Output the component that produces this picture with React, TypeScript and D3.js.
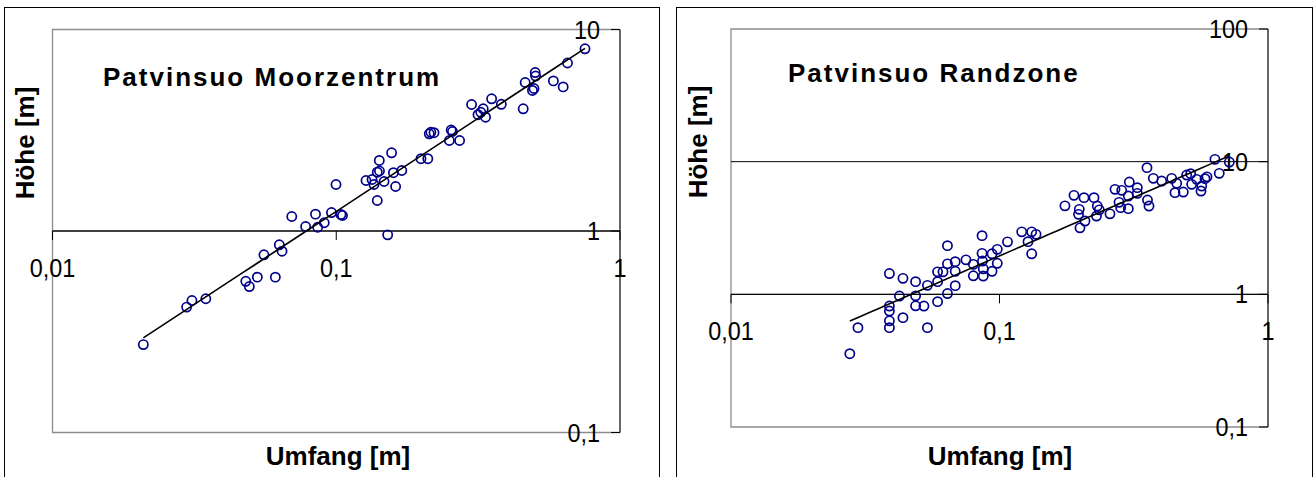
import React from "react";
import * as d3 from "d3";

// ---------- DATA ----------
// Umfang [m] (circumference) and Höhe [m] (height), Patvinsuo Moorzentrum
const centreUmfang = [
  0.0209, 0.0297, 0.031, 0.0347, 0.048, 0.0494, 0.0527, 0.061, 0.0556, 0.063,
  0.0644, 0.0697, 0.078, 0.0845, 0.086, 0.0907, 0.0962, 0.1039, 0.1052, 0.1518,
  0.0998, 0.1395, 0.1273, 0.1337, 0.1358, 0.1395, 0.142, 0.1418, 0.1474, 0.1567,
  0.159, 0.1619, 0.1702, 0.1989, 0.2102, 0.2127, 0.2155, 0.2211, 0.2504, 0.2541,
  0.2568, 0.2721, 0.2999, 0.3159, 0.3231, 0.3295, 0.3359, 0.3528, 0.3817, 0.4559,
  0.4633, 0.4915, 0.4976, 0.5026, 0.5041, 0.5824, 0.6306, 0.6531, 0.7527,
];
const centreHoehe = [
  0.273, 0.419, 0.452, 0.461, 0.563, 0.53, 0.59, 0.59, 0.762, 0.854,
  0.794, 1.18, 1.053, 1.212, 1.044, 1.099, 1.235, 1.207, 1.194, 0.957,
  1.701, 1.417, 1.781, 1.801, 1.701, 1.958, 1.985, 2.239, 1.761, 2.444,
  1.947, 1.663, 1.996, 2.285, 2.285, 3.037, 3.089, 3.075, 2.813, 3.171,
  3.117, 2.813, 4.244, 3.777, 3.882, 4.041, 3.671, 4.531, 4.254, 4.041,
  5.458, 4.982, 5.096, 6.116, 5.876, 5.557, 5.19, 6.82, 8.022,
];

// Patvinsuo Randzone
const edgeUmfang = [
  0.0277, 0.0297, 0.0389, 0.0389, 0.0389, 0.0389, 0.0389, 0.0424, 0.0437, 0.0437,
  0.0487, 0.0487, 0.0487, 0.0523, 0.0539, 0.0539, 0.0588, 0.0588, 0.0588, 0.0616,
  0.064, 0.064, 0.064, 0.0684, 0.0684, 0.0684, 0.075, 0.0799, 0.0799, 0.0861,
  0.0861, 0.0864, 0.087, 0.087, 0.0938, 0.0938, 0.0981, 0.0981, 0.1071, 0.121,
  0.1277, 0.1318, 0.1318, 0.1368, 0.1753, 0.1894, 0.1982, 0.1969, 0.1994, 0.2064,
  0.2082, 0.2249, 0.2313, 0.2353, 0.2297, 0.2579, 0.2693, 0.2787, 0.2852, 0.2827,
  0.3018, 0.3018, 0.3044, 0.326, 0.326, 0.3542, 0.3558, 0.3604, 0.374, 0.4019,
  0.4378, 0.4504, 0.4571, 0.4836, 0.4979, 0.5153, 0.5197, 0.5426, 0.5629, 0.5663,
  0.5826, 0.5926, 0.6345, 0.6583, 0.7177,
];
const edgeHoehe = [
  0.357, 0.561, 1.434, 0.816, 0.748, 0.631, 0.561, 0.971, 1.32, 0.667,
  1.246, 0.974, 0.819, 0.816, 0.561, 1.169, 1.477, 1.246, 0.881, 1.477,
  2.328, 1.697, 1.014, 1.764, 1.491, 1.163, 1.82, 1.683, 1.379, 2.769,
  2.037, 1.782, 1.557, 1.374, 2.02, 1.491, 2.183, 1.713, 2.487, 2.958,
  2.496, 2.958, 2.02, 2.832, 4.645, 5.572, 4.37, 4.007, 3.17, 5.354,
  3.567, 5.354, 4.629, 4.333, 3.891, 4.043, 6.183, 4.935, 6.076, 4.501,
  4.424, 5.505, 7.019, 6.369, 5.77, 9.012, 5.136, 4.629, 7.484, 7.141,
  7.484, 5.841, 6.862, 5.902, 7.925, 8.121, 6.744, 7.354, 6.005, 6.549,
  7.444, 7.681, 10.41, 8.162, 9.93,
];

const xTickValues = [0.01, 0.1, 1];
const xTickLabels = ["0,01", "0,1", "1"];
const centreYTickValues = [0.1, 1, 10];
const centreYTickLabels = ["0,1", "1", "10"];
const edgeYTickValues = [0.1, 1, 10, 100];
const edgeYTickLabels = ["0,1", "1", "10", "100"];

const centreTitle = "Patvinsuo Moorzentrum";
const edgeTitle = "Patvinsuo Randzone";
const xTitle = "Umfang [m]";
const yTitle = "Höhe [m]";

// ---------- DRAWING ----------
const FONT = "'Liberation Sans', Arial, Helvetica, sans-serif";
const POINT_COLOR = "#00008B";
const TICK_SX = 0.9;

type PanelProps = {
  box: { x0: number; y0: number; x1: number; y1: number };
  plot: { x0: number; y0: number; x1: number; y1: number };
  xs: number[];
  ys: number[];
  yDomain: [number, number];
  yTicks: number[];
  yLabels: string[];
  title: string;
  titlePos: [number, number];
  yTitlePos: [number, number];
  xTitlePos: [number, number];
};

function powerFit(xs: number[], ys: number[]) {
  const lx = xs.map(Math.log10);
  const ly = ys.map(Math.log10);
  const mx = d3.mean(lx) as number;
  const my = d3.mean(ly) as number;
  let sxy = 0;
  let sxx = 0;
  lx.forEach((v, i) => {
    sxy += (v - mx) * (ly[i] - my);
    sxx += (v - mx) * (v - mx);
  });
  const b = sxy / sxx;
  const a = my - b * mx;
  return (x: number) => Math.pow(10, a + b * Math.log10(x));
}

function TickText(props: { x: number; y: number; anchor: string; label: string }) {
  return (
    <text
      transform={`translate(${props.x},${props.y}) scale(${TICK_SX},1)`}
      textAnchor={props.anchor}
      fontFamily={FONT}
      fontSize={26}
      fill="black"
    >
      {props.label}
    </text>
  );
}

function Panel(p: PanelProps) {
  const { plot, box } = p;
  const x = d3.scaleLog().domain([0.01, 1]).range([plot.x0, plot.x1]);
  const y = d3.scaleLog().domain(p.yDomain).range([plot.y1, plot.y0]);
  const fit = powerFit(p.xs, p.ys);
  const [xmin, xmax] = d3.extent(p.xs) as [number, number];
  const fitPts = d3.range(0, 41).map((i) => {
    const lx = Math.log10(xmin) + (i / 40) * (Math.log10(xmax) - Math.log10(xmin));
    const xv = Math.pow(10, lx);
    return [x(xv), y(fit(xv))] as [number, number];
  });
  const line = d3.line();
  const yAxisY = y(1);
  const grid = p.yTicks.filter((t) => t > p.yDomain[0] && t < p.yDomain[1]);
  return (
    <g>
      <rect x={box.x0} y={box.y0} width={box.x1 - box.x0} height={box.y1 - box.y0} fill="white" stroke="black" strokeWidth={1} />
      {/* plot area frame (grey) */}
      <path d={`M${plot.x1},${plot.y0}H${plot.x0}V${plot.y1}H${plot.x1}`} fill="none" stroke="#8c8c8c" strokeWidth={1.3} />
      {/* horizontal gridlines */}
      {grid.map((t) => (
        <line key={"g" + t} x1={plot.x0} x2={plot.x1} y1={y(t)} y2={y(t)} stroke="black" strokeWidth={1} />
      ))}
      {/* y axis on the right */}
      <line x1={plot.x1} x2={plot.x1} y1={plot.y0} y2={plot.y1} stroke="black" strokeWidth={1.2} />
      {p.yTicks.map((t, i) => (
        <g key={"yt" + t}>
          <line x1={plot.x1 - 9} x2={plot.x1} y1={y(t)} y2={y(t)} stroke="black" strokeWidth={1} />
          <TickText x={plot.x1 - 20} y={y(t) + 9} anchor="end" label={p.yLabels[i]} />
        </g>
      ))}
      {/* x axis crossing at 1 */}
      <line x1={plot.x0} x2={plot.x1} y1={yAxisY} y2={yAxisY} stroke="black" strokeWidth={1} />
      {xTickValues.map((t, i) => (
        <g key={"xt" + t}>
          <line x1={x(t)} x2={x(t)} y1={yAxisY} y2={yAxisY + 9} stroke="black" strokeWidth={1} />
          <TickText x={x(t)} y={yAxisY + 46} anchor="middle" label={xTickLabels[i]} />
        </g>
      ))}
      {/* points */}
      {p.xs.map((xv, i) => (
        <circle key={"p" + i} cx={x(xv)} cy={y(p.ys[i])} r={4.6} fill="none" stroke={POINT_COLOR} strokeWidth={1.7} />
      ))}
      {/* power trend line */}
      <path d={line(fitPts) || ""} fill="none" stroke="black" strokeWidth={1.6} />
      {/* titles */}
      <text x={p.titlePos[0]} y={p.titlePos[1]} fontFamily={FONT} fontSize={26} fontWeight="bold" letterSpacing={2} fill="black">
        {p.title}
      </text>
      <text x={p.xTitlePos[0]} y={p.xTitlePos[1]} textAnchor="middle" fontFamily={FONT} fontSize={26} fontWeight="bold" fill="black">
        {xTitle}
      </text>
      <text
        transform={`translate(${p.yTitlePos[0]},${p.yTitlePos[1]}) rotate(-90)`}
        textAnchor="middle"
        fontFamily={FONT}
        fontSize={26}
        fontWeight="bold"
        fill="black"
      >
        {yTitle}
      </text>
    </g>
  );
}

export default function App() {
  return (
    <svg
      width={1314}
      height={477}
      style={{ position: "absolute", left: 0, top: 0, background: "white" }}
    >
      <rect x={0} y={0} width={1314} height={477} fill="white" />
      <Panel
        box={{ x0: 4.5, y0: 7.5, x1: 659.5, y1: 490 }}
        plot={{ x0: 52.5, y0: 29.5, x1: 620, y1: 432.5 }}
        xs={centreUmfang}
        ys={centreHoehe}
        yDomain={[0.1, 10]}
        yTicks={centreYTickValues}
        yLabels={centreYTickLabels}
        title={centreTitle}
        titlePos={[103, 86]}
        yTitlePos={[34, 143]}
        xTitlePos={[338, 465]}
      />
      <Panel
        box={{ x0: 676.5, y0: 7.5, x1: 1312.5, y1: 490 }}
        plot={{ x0: 731, y0: 29, x1: 1268, y1: 427 }}
        xs={edgeUmfang}
        ys={edgeHoehe}
        yDomain={[0.1, 100]}
        yTicks={edgeYTickValues}
        yLabels={edgeYTickLabels}
        title={edgeTitle}
        titlePos={[788, 82]}
        yTitlePos={[707, 142]}
        xTitlePos={[1000, 465]}
      />
    </svg>
  );
}
